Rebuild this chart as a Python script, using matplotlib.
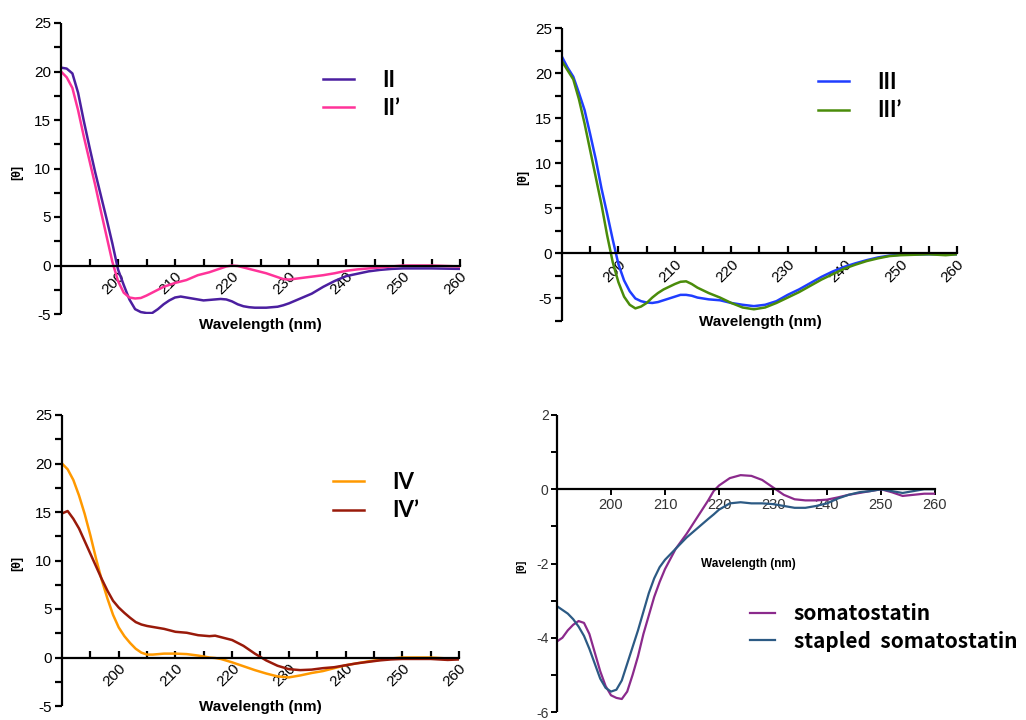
import numpy as np
import matplotlib
matplotlib.use("Agg")
import matplotlib.pyplot as plt
from matplotlib.ticker import FixedLocator, MultipleLocator

plt.rcParams['font.family'] = ['Liberation Sans', 'DejaVu Sans']

# CD spectra, mean residue ellipticity vs wavelength (nm)
wl_2 = [190, 191, 192, 193, 194, 195, 196, 197, 198, 199, 200, 201, 202, 203, 204,
        205, 206, 207, 208, 209, 210, 211, 212, 213, 214, 215, 216, 217, 218, 219,
        220, 221, 222, 223, 224, 226, 228, 229, 230, 232, 234, 236, 238, 240, 242,
        244, 246, 248, 250, 255, 260]
theta_II = [20.4, 20.3, 19.8, 17.8, 14.9, 12.2, 9.6, 7.2, 4.8, 2.3, -0.4, -2.0, -3.5, -4.5, -4.8,
            -4.9, -4.9, -4.5, -4.0, -3.6, -3.3, -3.2, -3.3, -3.4, -3.5, -3.6, -3.55, -3.5, -3.45, -3.5,
            -3.7, -4.0, -4.2, -4.3, -4.35, -4.35, -4.25, -4.1, -3.9, -3.4, -2.9, -2.2, -1.6, -1.1, -0.85,
            -0.6, -0.45, -0.35, -0.3, -0.3, -0.35]
theta_II_p = [20.0, 19.4, 18.3, 16.0, 13.3, 10.8, 8.3, 5.6, 3.0, 0.4, -1.6, -2.8, -3.3, -3.4, -3.35,
              -3.1, -2.8, -2.5, -2.2, -2.0, -1.8, -1.65, -1.5, -1.25, -1.0, -0.85, -0.7, -0.5, -0.3, -0.1,
              0.0, -0.05, -0.2, -0.35, -0.5, -0.8, -1.2, -1.4, -1.45, -1.3, -1.15, -1.0, -0.8, -0.55, -0.4,
              -0.3, -0.2, -0.1, 0.0, 0.0, -0.1]

wl_3 = [190, 191, 192, 193, 194, 195, 196, 197, 198, 199, 200, 201, 202, 203, 204,
        205, 206, 207, 208, 210, 211, 212, 213, 214, 216, 218, 220, 222, 224, 226,
        228, 230, 232, 234, 236, 238, 240, 242, 244, 246, 248, 250, 255, 258, 260]
theta_III = [21.8, 20.6, 19.6, 17.8, 15.9, 13.2, 10.4, 7.2, 4.4, 1.5, -1.2, -3.0, -4.2, -5.0, -5.3,
             -5.45, -5.5, -5.4, -5.2, -4.8, -4.6, -4.6, -4.7, -4.9, -5.1, -5.2, -5.5, -5.7, -5.85, -5.7,
             -5.3, -4.6, -4.0, -3.3, -2.6, -2.0, -1.5, -1.1, -0.75, -0.45, -0.25, -0.15, -0.1, -0.1, -0.1]
theta_III_p = [21.3, 20.3, 19.3, 17.1, 14.4, 11.4, 8.4, 5.4, 2.0, -1.0, -3.2, -4.8, -5.7, -6.1, -5.9,
               -5.5, -4.9, -4.4, -4.0, -3.4, -3.15, -3.1, -3.4, -3.8, -4.4, -4.9, -5.5, -6.0, -6.2, -6.0,
               -5.5, -4.9, -4.3, -3.6, -2.9, -2.3, -1.7, -1.25, -0.85, -0.55, -0.3, -0.2, -0.1, -0.2, -0.1]

wl_4 = [190, 191, 192, 193, 194, 195, 196, 197, 198, 199, 200, 201, 202, 203, 204,
        205, 206, 207, 208, 210, 212, 214, 216, 217, 218, 220, 222, 224, 226, 228,
        230, 232, 234, 236, 238, 240, 242, 244, 246, 248, 250, 255, 258, 260]
theta_IV = [20.0, 19.4, 18.3, 16.7, 14.8, 12.6, 10.2, 8.0, 6.1, 4.4, 3.1, 2.2, 1.5, 0.9, 0.5,
            0.3, 0.3, 0.35, 0.4, 0.4, 0.35, 0.2, 0.0, -0.05, -0.15, -0.5, -0.9, -1.3, -1.65, -1.95,
            -2.05, -1.85, -1.6, -1.4, -1.1, -0.8, -0.6, -0.4, -0.25, -0.1, 0.0, 0.0, -0.1, -0.1]
theta_IV_p = [14.85, 15.1, 14.3, 13.3, 12.0, 10.7, 9.4, 8.1, 6.9, 5.85, 5.15, 4.6, 4.1, 3.65, 3.4,
              3.25, 3.15, 3.05, 2.95, 2.65, 2.55, 2.3, 2.2, 2.25, 2.1, 1.8, 1.2, 0.4, -0.3, -0.85,
              -1.2, -1.3, -1.25, -1.1, -1.0, -0.8, -0.6, -0.45, -0.3, -0.2, -0.15, -0.15, -0.25, -0.2]

wl_s = [190, 191, 192, 193, 194, 195, 196, 197, 198, 199, 200, 201, 202, 203, 204,
        205, 206, 207, 208, 209, 210, 212, 214, 216, 218, 219, 220, 222, 224, 226,
        228, 230, 232, 234, 236, 238, 240, 242, 244, 246, 248, 250, 252, 254, 256, 258, 260]
theta_som = [-4.1, -4.0, -3.8, -3.65, -3.55, -3.6, -3.9, -4.4, -4.9, -5.3, -5.55, -5.62, -5.65, -5.45, -5.0,
             -4.5, -3.9, -3.4, -2.9, -2.5, -2.15, -1.6, -1.2, -0.75, -0.3, -0.05, 0.1, 0.3, 0.38, 0.36,
             0.25, 0.05, -0.15, -0.27, -0.3, -0.3, -0.28, -0.22, -0.15, -0.1, -0.05, 0.0, -0.08, -0.18, -0.15, -0.12, -0.12]
theta_stp = [-3.15, -3.25, -3.35, -3.5, -3.7, -3.95, -4.3, -4.7, -5.1, -5.35, -5.45, -5.4, -5.15, -4.7, -4.25,
             -3.8, -3.3, -2.8, -2.4, -2.1, -1.9, -1.6, -1.3, -1.05, -0.8, -0.68, -0.55, -0.38, -0.35, -0.38,
             -0.38, -0.4, -0.45, -0.5, -0.5, -0.45, -0.38, -0.25, -0.15, -0.08, -0.05, 0.0, -0.05, -0.1, -0.05, 0.0, 0.0]

fig = plt.figure(figsize=(10.26, 7.2), dpi=100)

def px_axes(x0, x1, ytop, ybot):
    return fig.add_axes([x0 / 1026, 1 - ybot / 720, (x1 - x0) / 1026, (ybot - ytop) / 720])

def style_axis(ax, ymin, ymax):
    ax.set_xlim(190, 260)
    ax.set_ylim(ymin, ymax)
    for s in ['top', 'right']:
        ax.spines[s].set_visible(False)
    ax.spines['bottom'].set_position(('data', 0))
    ax.spines['left'].set_linewidth(1.6)
    ax.spines['bottom'].set_linewidth(1.6)
    ax.spines['left'].set_capstyle('butt')
    ax.patch.set_visible(False)

def xlabel(ax, x, y, size=11):
    ax.text(x, y, 'Wavelength (nm)', transform=ax.transAxes, ha='center', va='center',
            fontsize=size, fontweight='bold')

def ylabel(ax, x, y, size=9):
    ax.text(x, y, '[θ]', transform=ax.transAxes, ha='center', va='center',
            rotation=90, fontsize=size, fontweight='bold')

def roman_axes(ax, ymin):
    style_axis(ax, ymin, 25)
    ax.xaxis.set_major_locator(FixedLocator(list(range(200, 261, 10))))
    ax.xaxis.set_minor_locator(FixedLocator(list(range(195, 260, 10))))
    ax.yaxis.set_major_locator(MultipleLocator(5))
    ax.yaxis.set_minor_locator(MultipleLocator(2.5))
    ax.tick_params(axis='x', which='both', direction='in', length=5, width=1.6, pad=3)
    ax.tick_params(axis='y', which='both', direction='out', length=5, width=1.6, labelsize=11, pad=2)
    for lab in ax.get_xticklabels():
        lab.set_rotation(45)
        lab.set_ha('right')
        lab.set_va('top')
        lab.set_rotation_mode('anchor')
        lab.set_fontsize(11)
    ax.yaxis.set_major_formatter(matplotlib.ticker.FuncFormatter(lambda v, p: f'{v:g}'))

def roman_legend(ax, x, y):
    return ax.legend(loc='upper left', bbox_to_anchor=(x, y), frameon=False, borderpad=0,
                     borderaxespad=0, handlelength=1.4, handletextpad=1.25, labelspacing=0.33,
                     prop={'family': ['Lato', 'DejaVu Sans'], 'weight': 'bold', 'size': 16})

# II / II'
ax1 = px_axes(61, 460, 23, 314)
roman_axes(ax1, -5)
ax1.plot(wl_2, theta_II, color='#4B1FA0', lw=1.8, label='II')
ax1.plot(wl_2, theta_II_p, color='#FF3399', lw=1.8, label='II’')
roman_legend(ax1, 0.657, 0.84)
xlabel(ax1, 0.5, -0.038)
ylabel(ax1, -0.11, 0.485)

# III / III'
ax2 = px_axes(562, 957, 28, 321)
roman_axes(ax2, -7.5)
ax2.plot(wl_3, theta_III, color='#1F3DFF', lw=1.8, label='III')
ax2.plot(wl_3, theta_III_p, color='#4A8C0A', lw=1.8, label='III’')
roman_legend(ax2, 0.649, 0.85)
xlabel(ax2, 0.501, -0.003)
ylabel(ax2, -0.099, 0.49)

# IV / IV'
ax3 = px_axes(62, 459, 415, 706)
roman_axes(ax3, -5)
ax3.plot(wl_4, theta_IV, color='#FF9900', lw=1.8, label='IV')
ax3.plot(wl_4, theta_IV_p, color='#991A0A', lw=1.8, label='IV’')
roman_legend(ax3, 0.683, 0.804)
xlabel(ax3, 0.5, -0.003)
ylabel(ax3, -0.113, 0.49)

# somatostatin / stapled somatostatin
ax4 = px_axes(557, 935, 415, 712)
style_axis(ax4, -6, 2)
ax4.xaxis.set_major_locator(FixedLocator(list(range(200, 261, 10))))
ax4.yaxis.set_major_locator(MultipleLocator(2))
ax4.yaxis.set_minor_locator(MultipleLocator(1))
ax4.tick_params(axis='x', which='major', direction='out', length=4, width=1.4,
                labelsize=10.5, labelcolor='#333333', pad=2)
ax4.tick_params(axis='y', which='both', direction='out', length=4, width=1.4,
                labelsize=10, labelcolor='#333333', pad=2)
ax4.yaxis.set_major_formatter(matplotlib.ticker.FuncFormatter(lambda v, p: f'{v:g}'))
ax4.plot(wl_s, theta_som, color='#8B2A8C', lw=1.6, label='somatostatin')
ax4.plot(wl_s, theta_stp, color='#2C5A84', lw=1.6, label='stapled  somatostatin')
ax4.legend(loc='upper left', bbox_to_anchor=(0.51, 0.366), frameon=False, borderpad=0,
           borderaxespad=0, handlelength=1.2, handletextpad=0.9, labelspacing=0.3,
           prop={'family': ['Noto Sans CJK KR', 'DejaVu Sans'], 'weight': 'bold', 'size': 15})
xlabel(ax4, 0.505, 0.5, size=8.5)
ylabel(ax4, -0.095, 0.49, size=8)

fig.savefig('out.png', dpi=100)
